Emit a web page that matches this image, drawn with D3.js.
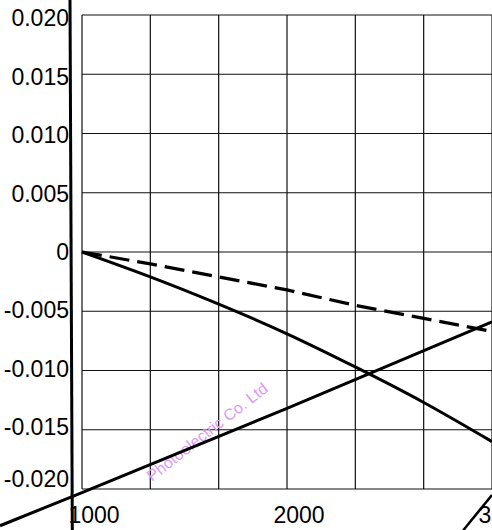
<!DOCTYPE html>
<html>
<head>
<meta charset="utf-8">
<script src="https://cdn.jsdelivr.net/npm/d3@7"></script>
<style>
  body { margin: 0; background: #fff; }
  svg { display: block; }
</style>
</head>
<body>
<div id="chart"></div>
<script>
// x ticks (grid every 1/3 of 1000)
var xGrid = [1000, 1333.3, 1666.7, 2000, 2333.3, 2666.7, 3000];
var xLabels = [1000, 2000, 3000];
var yTicks = [0.020, 0.015, 0.010, 0.005, 0, -0.005, -0.010, -0.015, -0.020];
var yLabels = ["0.020", "0.015", "0.010", "0.005", "0", "-0.005", "-0.010", "-0.015", "-0.020"];

// series
var curveX = [1000, 1333, 1667, 2000, 2333, 2667, 3000];
var curveY = [0, -0.0021, -0.0044, -0.0069, -0.0097, -0.0127, -0.0160];
var dashX = [1000, 1333, 1667, 2000, 2333, 2667, 3000];
var dashY = [0, -0.0010, -0.0021, -0.0032, -0.0045, -0.0056, -0.0067];
var riseX = [600, 1000, 2000, 3000];
var riseY = [-0.0231, -0.0203, -0.0132, -0.0059];
var edgeX = [2859, 3000];
var edgeY = [-0.0235, -0.0205];

var w = 492;
var h = 530;

var svg = d3.select("#chart")
  .append("svg")
  .attr("width", w)
  .attr("height", h);

var xScale = d3.scaleLinear()
  .domain([1000, 3000])
  .range([82, 492]);

var yScale = d3.scaleLinear()
  .domain([-0.02, 0.02])
  .range([489, 15]);

// labels on the scan drift a little from the grid
var yLab = d3.scaleLinear()
  .domain([-0.02, -0.015, 0.02])
  .range([479, 427, 18]);

// grid
svg.append("g")
  .selectAll("line")
  .data(xGrid)
  .enter()
  .append("line")
  .attr("x1", function(d) { return xScale(d); })
  .attr("x2", function(d) { return xScale(d); })
  .attr("y1", yScale(0.02))
  .attr("y2", yScale(-0.02))
  .attr("stroke", "#111")
  .attr("stroke-width", 1.2);

svg.append("g")
  .selectAll("line")
  .data(yTicks)
  .enter()
  .append("line")
  .attr("x1", xScale(1000))
  .attr("x2", xScale(3000))
  .attr("y1", function(d) { return yScale(d); })
  .attr("y2", function(d) { return yScale(d); })
  .attr("stroke", "#111")
  .attr("stroke-width", 1.2);

// watermark remnant
svg.append("text")
  .attr("transform", "translate(152,482) rotate(-38)")
  .attr("font-family", "Liberation Sans, Arial, sans-serif")
  .attr("font-size", 16)
  .attr("fill", "#dc9af5")
  .text("Photoelectric Co. Ltd");

// thick left axis line
svg.append("line")
  .attr("x1", 70)
  .attr("y1", 0)
  .attr("x2", 72.3)
  .attr("y2", h)
  .attr("stroke", "#000")
  .attr("stroke-width", 3);

// y labels
svg.append("g")
  .selectAll("text")
  .data(yTicks)
  .enter()
  .append("text")
  .attr("x", 69)
  .attr("y", function(d) { return yLab(d); })
  .attr("dy", "0.36em")
  .attr("text-anchor", "end")
  .attr("font-family", "Liberation Sans, Arial, sans-serif")
  .attr("font-size", 23)
  .attr("fill", "#000")
  .text(function(d, i) { return yLabels[i]; });

// x labels
svg.append("g")
  .selectAll("text")
  .data(xLabels)
  .enter()
  .append("text")
  .attr("x", function(d) { return xScale(d) + 12; })
  .attr("y", 523)
  .attr("text-anchor", "middle")
  .attr("font-family", "Liberation Sans, Arial, sans-serif")
  .attr("font-size", 23)
  .attr("fill", "#000")
  .text(function(d) { return d; });

var line = d3.line()
  .x(function(d) { return xScale(d[0]); })
  .y(function(d) { return yScale(d[1]); });

var smooth = d3.line()
  .x(function(d) { return xScale(d[0]); })
  .y(function(d) { return yScale(d[1]); })
  .curve(d3.curveNatural);

svg.append("path")
  .attr("d", smooth(d3.zip(curveX, curveY)))
  .attr("fill", "none")
  .attr("stroke", "#000")
  .attr("stroke-width", 3);

svg.append("path")
  .attr("d", line(d3.zip(dashX, dashY)))
  .attr("fill", "none")
  .attr("stroke", "#000")
  .attr("stroke-width", 3.2)
  .attr("stroke-dasharray", "20,8");

svg.append("path")
  .attr("d", line(d3.zip(riseX, riseY)))
  .attr("fill", "none")
  .attr("stroke", "#000")
  .attr("stroke-width", 3);

svg.append("path")
  .attr("d", line(d3.zip(edgeX, edgeY)))
  .attr("fill", "none")
  .attr("stroke", "#000")
  .attr("stroke-width", 2.5);
</script>
</body>
</html>
